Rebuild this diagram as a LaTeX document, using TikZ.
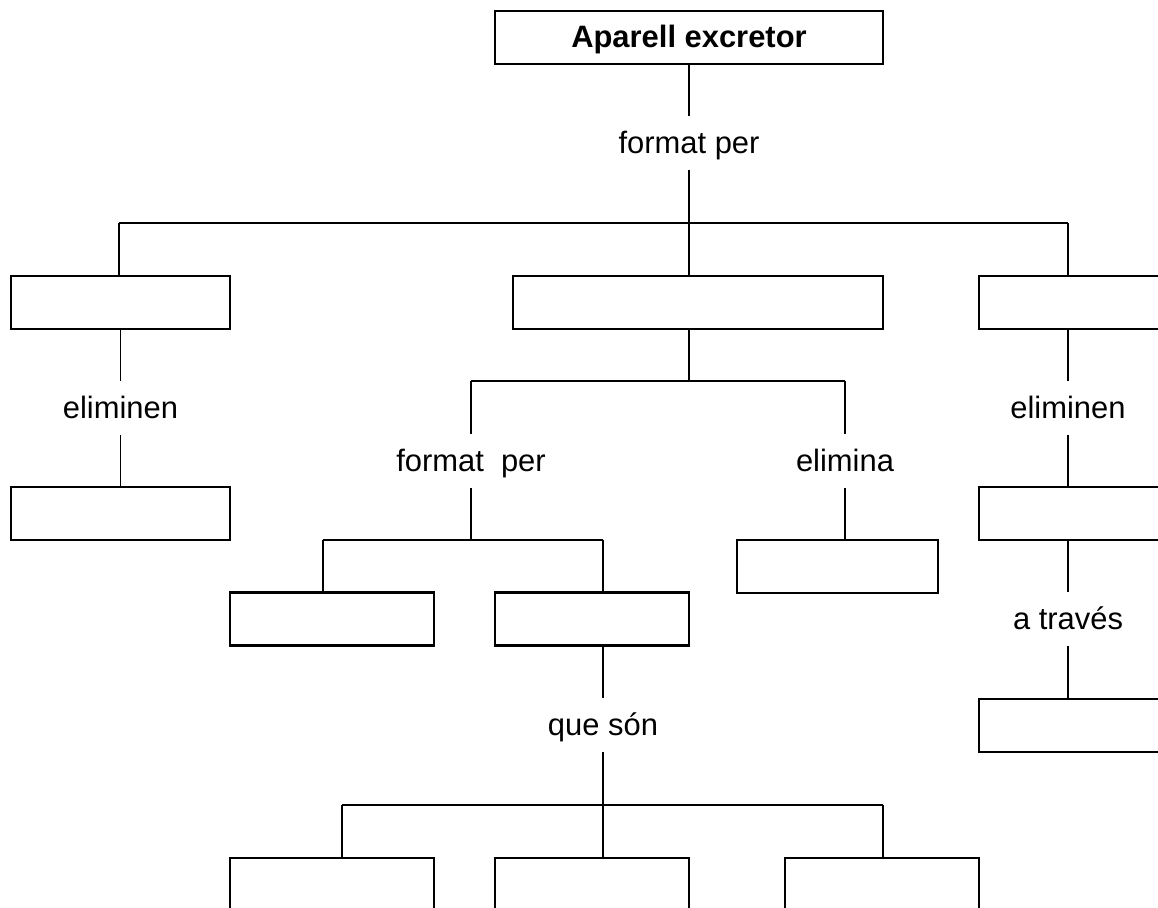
\documentclass[tikz,border=0pt]{standalone}
\usepackage{fontspec}
\setmainfont{Liberation Sans}

\tikzset{
    box/.style={draw,line width=1.2pt,minimum height=1.06cm,inner sep=0pt},
    lbl/.style={minimum height=1.06cm,inner sep=0pt,text height=14pt,text depth=2.3pt},
    link/.style={line width=1pt}
}

\begin{document}
\begin{tikzpicture}[x=0.02cm,y=-0.02cm,font=\fontsize{17.6}{21}\selectfont]
\useasboundingbox (0,0) rectangle (1158,908);
\clip (0,0) rectangle (1158,908);
% boxes
\node[box,minimum width=7.76cm,text height=14pt,text depth=2.3pt] (top) at (689,37.5) {\bfseries Aparell excretor};
\node[box,minimum width=4.38cm] (L1) at (120.5,302.5) {};
\node[box,minimum width=7.4cm] (M1) at (698,302.5) {};
\node[box,minimum width=4.38cm] (R1) at (1088.5,302.5) {};
\node[box,minimum width=4.38cm] (L2) at (120.5,513.5) {};
\node[box,minimum width=4.38cm] (R2) at (1088.5,513.5) {};
\node[box,minimum width=4.38cm] (R3) at (1088.5,725.5) {};
\node[box,minimum width=4.02cm] (E) at (837.5,566.5) {};
\node[box,minimum width=4.08cm] (A) at (332,619) {};
\node[box,minimum width=3.88cm] (B) at (592,619) {};
\node[box,minimum width=4.08cm] (C1) at (332,884.5) {};
\node[box,minimum width=3.88cm] (C2) at (592,884.5) {};
\node[box,minimum width=3.88cm] (C3) at (882,884.5) {};
% labels
\node[lbl] (fp1) at (689,143) {format per};
\node[lbl] (elL) at (120.5,408) {eliminen};
\node[lbl] (elR) at (1068,408) {eliminen};
\node[lbl] (fp2) at (471,461) {format~ per};
\node[lbl] (elim) at (845,461) {elimina};
\node[lbl] (qs) at (603,725) {que són};
\node[lbl] (tr) at (1068,619) {a través};
% buses
\coordinate (b1l) at (119,223);
\coordinate (b1r) at (1068,223);
\coordinate (b2l) at (471,381);
\coordinate (b2r) at (845,381);
\coordinate (b3l) at (323,540);
\coordinate (b3r) at (603,540);
\coordinate (b4l) at (342,805);
\coordinate (b4r) at (883,805);

\draw[link] (top.south) -- (fp1.north);
\draw[link] (fp1.south) -- (fp1.south |- b1l);
\draw[link] (b1l) -- (b1r);
\draw[link] (b1l) -- (b1l |- L1.north);
\draw[link] (fp1.south |- b1l) -- (fp1.south |- M1.north);
\draw[link] (b1r) -- (b1r |- R1.north);

\draw[link] (L1.south) -- (elL.north);
\draw[link] (elL.south) -- (L2.north);

\draw[link] (R1.south -| elR) -- (elR.north);
\draw[link] (elR.south) -- (elR.south |- R2.north);
\draw[link] (R2.south -| tr) -- (tr.north);
\draw[link] (tr.south) -- (tr.south |- R3.north);

\draw[link] (M1.south -| fp1) -- (fp1 |- b2l);
\draw[link] (b2l) -- (b2r);
\draw[link] (b2l) -- (fp2.north);
\draw[link] (b2r) -- (elim.north);
\draw[link] (elim.south) -- (elim.south |- E.north);

\draw[link] (fp2.south) -- (fp2.south |- b3l);
\draw[link] (b3l) -- (b3r);
\draw[link] (b3l) -- (b3l |- A.north);
\draw[link] (b3r) -- (b3r |- B.north);

\draw[link] (B.south -| qs) -- (qs.north);
\draw[link] (qs.south) -- (qs.south |- b4l);
\draw[link] (b4l) -- (b4r);
\draw[link] (b4l) -- (b4l |- C1.north);
\draw[link] (qs.south |- b4l) -- (qs.south |- C2.north);
\draw[link] (b4r) -- (b4r |- C3.north);
\end{tikzpicture}
\end{document}
